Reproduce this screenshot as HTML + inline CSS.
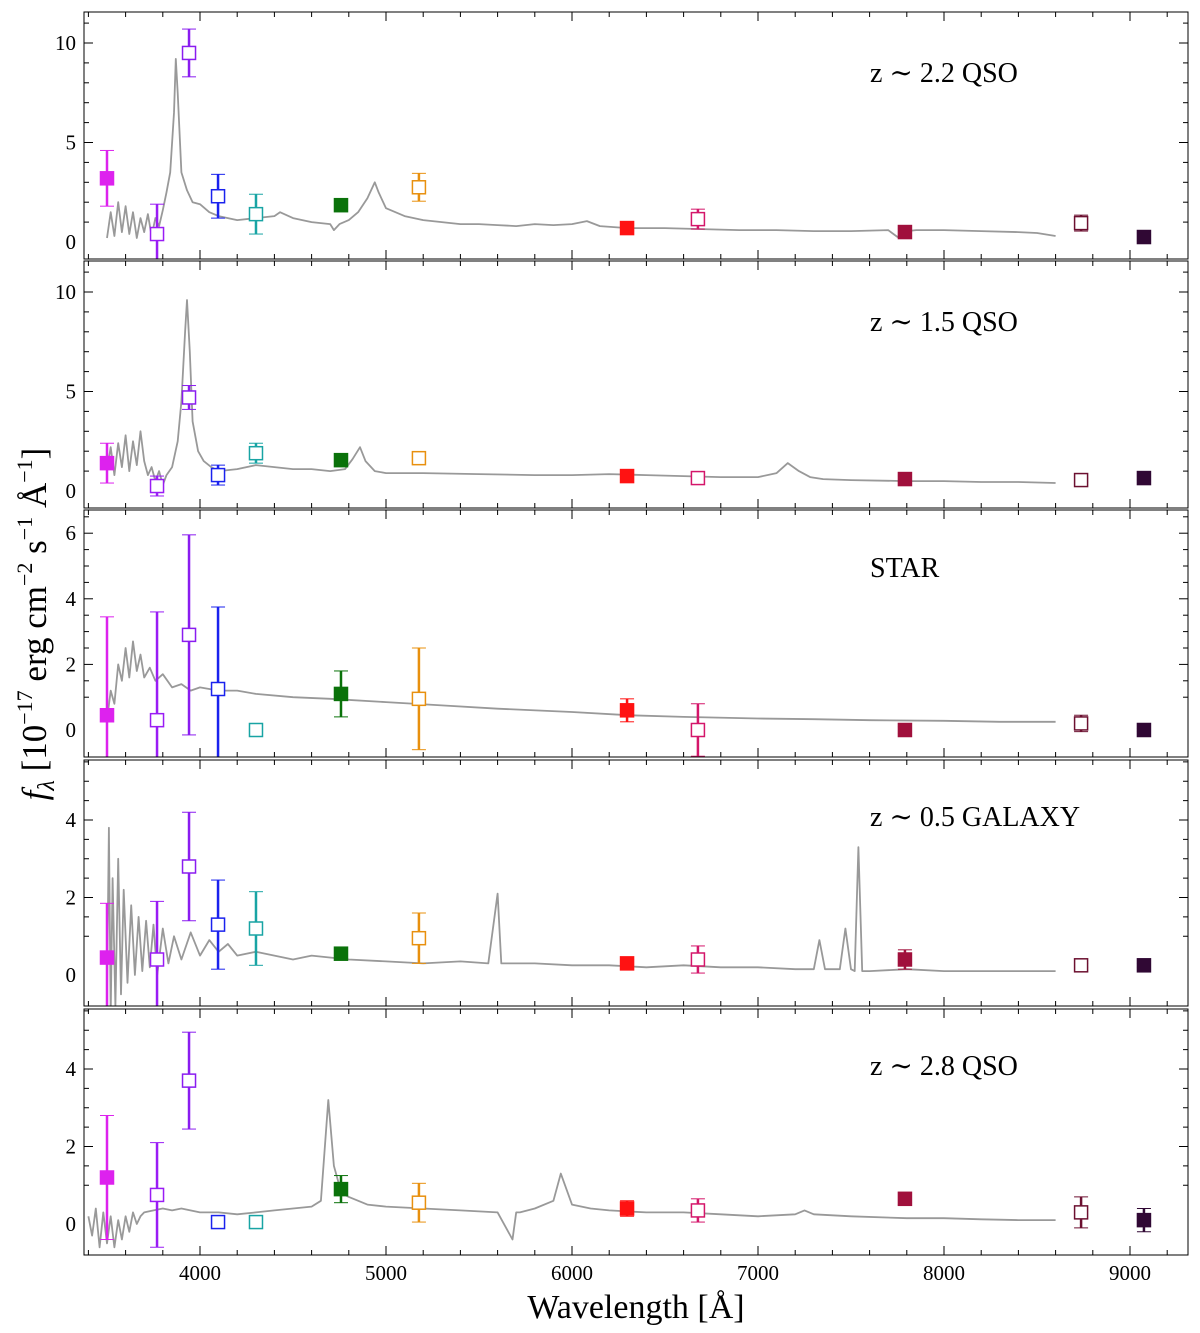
<!DOCTYPE html>
<html><head><meta charset="utf-8">
<style>
html,body{margin:0;padding:0;background:#fff;}
svg{display:block;font-family:"Liberation Serif","DejaVu Serif",serif;}
</style></head>
<body>
<svg id="chart" width="1200" height="1333" viewBox="0 0 1200 1333" xmlns="http://www.w3.org/2000/svg">
<text x="636" y="1318" font-size="34" text-anchor="middle">Wavelength [Å]</text>
<text transform="translate(46,624) rotate(-90)" font-size="35" text-anchor="middle"><tspan font-style="italic">f</tspan><tspan font-style="italic" font-size="24" dy="8">λ</tspan><tspan dy="-8">   [10</tspan><tspan font-size="22" dy="-14">−17</tspan><tspan dy="14"> erg cm</tspan><tspan font-size="22" dy="-14">−2</tspan><tspan dy="14"> s</tspan><tspan font-size="22" dy="-14">−1</tspan><tspan dy="14"> Å</tspan><tspan font-size="22" dy="-14">−1</tspan><tspan dy="14">]</tspan></text>
</svg>
<script>
const filterLam=[3500,3769,3941,4097,4301,4758,5177,6296,6677,7790,8737,9075];
const filterColor=['#dd22ee','#9a1cf5','#8a1cf0','#1a22ee','#18a4a4','#0a720a','#e8900e','#ff1212','#d4166a','#a0103c','#6c1030','#300834'];
const filterFilled=[true,false,false,false,false,true,false,true,false,true,false,true];
const panelLabels=['z ∼ 2.2 QSO','z ∼ 1.5 QSO','STAR','z ∼ 0.5 GALAXY','z ∼ 2.8 QSO'];
const p1Val=[3.2,0.4,9.5,2.3,1.4,1.85,2.75,0.7,1.15,0.5,0.95,0.25];
const p1Err=[1.4,1.5,1.2,1.1,1.0,0.15,0.7,0.15,0.5,0.15,0.4,0.2];
const p2Val=[1.4,0.25,4.7,0.8,1.9,1.55,1.65,0.75,0.65,0.6,0.55,0.65];
const p2Err=[1.0,0.5,0.6,0.5,0.5,0.15,0.1,0.15,0.1,0.15,0.1,0.1];
const p3Val=[0.45,0.3,2.9,1.25,0.0,1.1,0.95,0.6,0.0,0.0,0.2,0.0];
const p3Err=[3.0,3.3,3.05,2.5,0,0.7,1.55,0.35,0.8,0.1,0.25,0.05];
const p4Val=[0.45,0.4,2.8,1.3,1.2,0.55,0.95,0.3,0.4,0.4,0.25,0.25];
const p4Err=[1.4,1.5,1.4,1.15,0.95,0.1,0.65,0.1,0.35,0.25,0.05,0.05];
const p5Val=[1.2,0.75,3.7,0.05,0.05,0.9,0.55,0.4,0.35,0.65,0.3,0.1];
const p5Err=[1.6,1.35,1.25,0,0,0.35,0.5,0.2,0.3,0.15,0.4,0.3];
const s1Lam=[3500,3520,3540,3560,3580,3600,3620,3640,3660,3680,3700,3720,3740,3760,3780,3800,3820,3840,3860,3870,3880,3900,3930,3960,4000,4050,4100,4150,4200,4300,4400,4430,4500,4600,4700,4720,4750,4800,4850,4900,4940,4960,5000,5100,5200,5300,5400,5500,5600,5700,5800,5900,6000,6080,6150,6300,6500,6700,6900,7100,7300,7500,7700,7750,7800,7850,8000,8200,8400,8500,8600];
const s1Flux=[0.2,1.5,0.3,2.0,0.5,1.8,0.4,1.5,0.2,1.2,0.5,1.4,0.3,1.2,0.8,1.6,2.5,3.5,6.5,9.2,7.5,3.5,2.6,2.0,1.9,1.5,1.3,1.2,1.1,1.2,1.3,1.5,1.2,1.0,0.9,0.6,0.9,1.1,1.5,2.2,3.0,2.5,1.7,1.3,1.1,1.0,0.9,0.9,0.85,0.8,0.9,0.85,0.9,1.05,0.8,0.7,0.7,0.65,0.6,0.6,0.55,0.55,0.6,0.25,0.55,0.6,0.6,0.55,0.5,0.45,0.3];
const s2Lam=[3500,3520,3540,3560,3580,3600,3620,3640,3660,3680,3700,3720,3740,3760,3780,3800,3820,3850,3880,3900,3920,3930,3945,3960,3990,4020,4060,4100,4200,4300,4400,4500,4600,4700,4780,4820,4860,4890,4940,5000,5200,5500,5800,6000,6200,6400,6600,6800,7000,7100,7160,7220,7280,7350,7500,7800,8000,8200,8400,8600];
const s2Flux=[1.0,2.2,0.8,2.4,1.2,2.8,1.0,2.5,1.3,3.0,1.5,0.8,1.2,0.5,1.0,0.3,0.8,1.2,2.5,4.5,8.0,9.6,7.0,3.5,2.0,1.5,1.2,1.0,1.1,1.3,1.2,1.1,1.1,1.0,1.1,1.6,2.2,1.5,1.0,0.9,0.9,0.85,0.8,0.8,0.85,0.8,0.75,0.7,0.7,0.9,1.4,1.0,0.7,0.6,0.55,0.5,0.5,0.45,0.45,0.4];
const s3Lam=[3500,3520,3540,3560,3580,3600,3620,3640,3660,3680,3700,3730,3760,3800,3850,3900,3950,4000,4100,4200,4300,4500,4700,5000,5300,5600,6000,6300,6600,7000,7300,7600,8000,8300,8600];
const s3Flux=[0.3,1.2,0.8,2.0,1.5,2.5,1.6,2.7,1.8,2.3,1.6,1.9,1.5,1.7,1.3,1.4,1.2,1.3,1.2,1.2,1.1,1.0,0.95,0.85,0.75,0.65,0.55,0.45,0.4,0.35,0.33,0.3,0.28,0.25,0.25];
const s4Lam=[3500,3510,3520,3530,3545,3560,3575,3590,3610,3630,3650,3670,3690,3710,3730,3750,3770,3800,3830,3860,3900,3950,4000,4050,4100,4150,4200,4300,4400,4500,4600,4800,5000,5200,5400,5550,5600,5620,5680,5800,6000,6200,6400,6600,6800,7000,7200,7300,7330,7360,7440,7470,7500,7520,7540,7560,7600,7800,8000,8200,8400,8600];
const s4Flux=[-0.5,3.8,-1.0,2.5,-0.8,3.0,-0.5,2.2,-0.2,1.8,0.0,1.5,0.1,1.4,0.2,1.3,0.0,1.2,0.3,1.0,0.4,1.1,0.5,0.9,0.6,0.8,0.5,0.6,0.5,0.4,0.5,0.4,0.35,0.3,0.35,0.3,2.1,0.3,0.3,0.3,0.25,0.25,0.2,0.25,0.2,0.2,0.15,0.15,0.9,0.15,0.15,1.2,0.15,0.1,3.3,0.1,0.1,0.15,0.1,0.1,0.1,0.1];
const s5Lam=[3400,3420,3440,3460,3480,3500,3520,3540,3560,3580,3600,3620,3640,3660,3680,3700,3750,3800,3850,3900,4000,4100,4200,4300,4400,4500,4600,4650,4690,4720,4760,4800,4900,5000,5200,5400,5600,5680,5700,5720,5800,5900,5940,5970,6000,6100,6200,6400,6600,6800,7000,7200,7250,7300,7500,7800,8000,8200,8400,8600];
const s5Flux=[0.2,-0.3,0.4,-0.6,0.3,-0.5,0.2,-0.6,0.1,-0.4,0.2,-0.2,0.3,0.0,0.2,0.3,0.35,0.4,0.35,0.4,0.3,0.3,0.25,0.3,0.35,0.4,0.45,0.6,3.2,1.5,0.8,0.7,0.5,0.45,0.4,0.35,0.3,-0.4,0.3,0.3,0.4,0.6,1.3,0.9,0.5,0.4,0.35,0.3,0.3,0.25,0.2,0.25,0.35,0.25,0.2,0.15,0.15,0.12,0.1,0.1];

const NS='http://www.w3.org/2000/svg';
const svg=document.getElementById('chart');
const L=84,R=1188;
const xScale=l=>200+(l-4000)*0.186;
function mk(tag,attrs,parent){const e=document.createElementNS(NS,tag);for(const k in attrs)e.setAttribute(k,attrs[k]);(parent||svg).appendChild(e);return e;}

const panels=[
 {top:12,bot:259,y0:242,ppu:19.9,ticks:[0,5,10],minor:1,vals:p1Val,errs:p1Err,lam:s1Lam,flux:s1Flux,ly:72},
 {top:261,bot:508,y0:491,ppu:19.9,ticks:[0,5,10],minor:1,vals:p2Val,errs:p2Err,lam:s2Lam,flux:s2Flux,ly:321},
 {top:510,bot:757,y0:730,ppu:32.8,ticks:[0,2,4,6],minor:0.5,vals:p3Val,errs:p3Err,lam:s3Lam,flux:s3Flux,ly:567},
 {top:760,bot:1006,y0:975,ppu:38.75,ticks:[0,2,4],minor:0.5,vals:p4Val,errs:p4Err,lam:s4Lam,flux:s4Flux,ly:816},
 {top:1009,bot:1255,y0:1224,ppu:38.75,ticks:[0,2,4],minor:0.5,vals:p5Val,errs:p5Err,lam:s5Lam,flux:s5Flux,ly:1065}
];
panels.forEach((p,pi)=>{
 const g=mk('g',{});
 
 
 const cid='clip'+pi;
 const cp=mk('clipPath',{id:cid},g);mk('rect',{x:L,y:p.top,width:R-L,height:p.bot-p.top},cp);
 const yS=v=>p.y0-v*p.ppu;
 const vmin=(p.y0-p.bot)/p.ppu*-1, vmax=(p.y0-p.top)/p.ppu;
 let d='';p.lam.forEach((l,i)=>{d+=(i?'L':'M')+xScale(l).toFixed(1)+','+yS(p.flux[i]).toFixed(1);});
 const sp=mk('path',{d:d,fill:'none',stroke:'#999','stroke-width':1.8,'stroke-linejoin':'round','clip-path':'url(#'+cid+')'},g);
 
 
 filterLam.forEach((l,i)=>{
  const x=xScale(l),y=yS(p.vals[i]),e=p.errs[i],c=filterColor[i];
  const pg=mk('g',{'clip-path':'url(#'+cid+')'},g);
  
  
  if(e>0){
   mk('line',{x1:x,x2:x,y1:yS(p.vals[i]-e),y2:yS(p.vals[i]+e),stroke:c,'stroke-width':2.5},pg);
   mk('line',{x1:x-7,x2:x+7,y1:yS(p.vals[i]-e),y2:yS(p.vals[i]-e),stroke:c,'stroke-width':1},pg);
   mk('line',{x1:x-7,x2:x+7,y1:yS(p.vals[i]+e),y2:yS(p.vals[i]+e),stroke:c,'stroke-width':1},pg);
  }
  mk('rect',{x:x-6.5,y:y-6.5,width:13,height:13,fill:filterFilled[i]?c:'#fff',stroke:c,'stroke-width':1.5},pg);
 });
 const fr=mk('rect',{x:L,y:p.top,width:R-L,height:p.bot-p.top,fill:'none',stroke:'#000','stroke-width':1},g);
 
 
 for(let l=3400;l<=9300;l+=200){
  const x=xScale(l);const major=l%1000===0;const len=major?9:5;
  mk('line',{x1:x,x2:x,y1:p.bot,y2:p.bot-len,stroke:'#000','stroke-width':1},g);
  mk('line',{x1:x,x2:x,y1:p.top,y2:p.top+len,stroke:'#000','stroke-width':1},g);
 }
 for(let v=Math.ceil(vmin/p.minor)*p.minor;v<=vmax;v+=p.minor){
  const y=yS(v);const major=p.ticks.some(t=>Math.abs(t-v)<1e-6);const len=major?9:5;
  mk('line',{x1:L,x2:L+len,y1:y,y2:y,stroke:'#000','stroke-width':1},g);
  mk('line',{x1:R,x2:R-len,y1:y,y2:y,stroke:'#000','stroke-width':1},g);
 }
 p.ticks.forEach(t=>{
  const tx=mk('text',{x:L-8,y:yS(t)+7,'font-size':21,'text-anchor':'end'},g);
  
  
  tx.textContent=t;
 });
 const lb=mk('text',{x:870,y:p.ly+10,'font-size':28},g);
 
 
 lb.textContent=panelLabels[pi];
});
const xTicks=[4000,5000,6000,7000,8000,9000];
xTicks.forEach(t=>{
 const tx=mk('text',{x:xScale(t),y:1280,'font-size':21,'text-anchor':'middle'});
 
 
 tx.textContent=t;
});
</script>
</body></html>
